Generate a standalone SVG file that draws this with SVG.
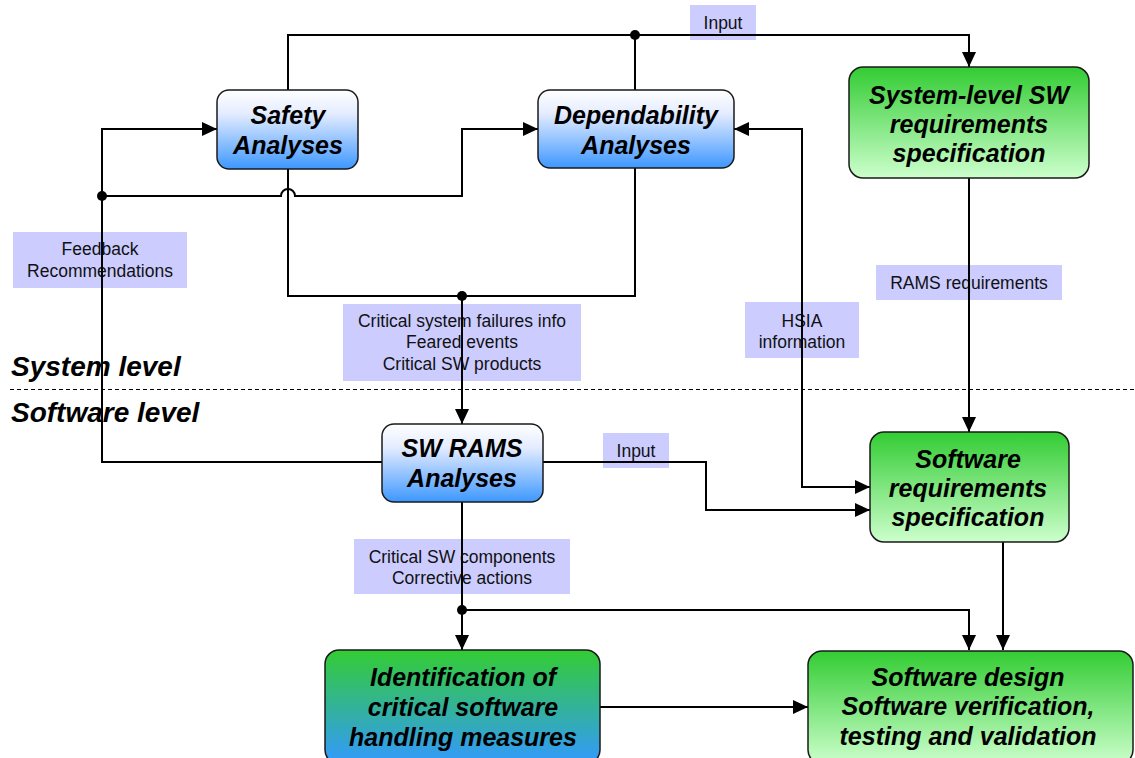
<svg xmlns="http://www.w3.org/2000/svg" width="1135" height="758" viewBox="0 0 1135 758">
<style>
.lbl{fill:#ccccff}
.lt{font-family:"Liberation Sans",Arial,sans-serif;font-size:17.5px;fill:#111;text-anchor:middle}
.nt{font-family:"Liberation Sans",Arial,sans-serif;font-size:25px;font-weight:bold;font-style:italic;fill:#000;text-anchor:middle}
.sec{font-family:"Liberation Sans",Arial,sans-serif;font-size:28px;font-weight:bold;font-style:italic;fill:#000}
.box{stroke:#1a1a1a;stroke-width:1.5}
.c{fill:none;stroke:#000;stroke-width:2}
.dot{fill:#000}
</style>
<defs>
<linearGradient id="gBlue" x1="0" y1="0" x2="0" y2="1">
<stop offset="0" stop-color="#ffffff"/><stop offset="0.3" stop-color="#e4ecff"/><stop offset="1" stop-color="#3d97ff"/>
</linearGradient>
<linearGradient id="gGreen" x1="0" y1="0" x2="0" y2="1">
<stop offset="0" stop-color="#33cc33"/><stop offset="1" stop-color="#ccffcc"/>
</linearGradient>
<linearGradient id="gGB" x1="0" y1="0" x2="0" y2="1">
<stop offset="0" stop-color="#33cc33"/><stop offset="1" stop-color="#3399ff"/>
</linearGradient>
<marker id="ah" markerUnits="userSpaceOnUse" markerWidth="15" markerHeight="14" refX="15" refY="7" orient="auto-start-reverse">
<path d="M0,0 L15,7 L0,14 z" fill="#000"/>
</marker>
</defs>

<g id="labels">
<rect class="lbl" x="690" y="5" width="66" height="35"/>
<text class="lt" x="723" y="29">Input</text>
<rect class="lbl" x="13" y="232" width="174" height="56"/>
<text class="lt" x="100" y="255">Feedback</text>
<text class="lt" x="100" y="277">Recommendations</text>
<rect class="lbl" x="343" y="304" width="238" height="77"/>
<text class="lt" x="462" y="327">Critical system failures info</text>
<text class="lt" x="462" y="348">Feared events</text>
<text class="lt" x="462" y="370">Critical SW products</text>
<rect class="lbl" x="745" y="302" width="114" height="56"/>
<text class="lt" x="802" y="327">HSIA</text>
<text class="lt" x="802" y="348">information</text>
<rect class="lbl" x="876" y="265" width="186" height="35"/>
<text class="lt" x="969" y="289">RAMS requirements</text>
<rect class="lbl" x="603" y="433" width="66" height="35"/>
<text class="lt" x="636" y="457">Input</text>
<rect class="lbl" x="354" y="539" width="216" height="55"/>
<text class="lt" x="462" y="563">Critical SW components</text>
<text class="lt" x="462" y="584">Corrective actions</text>
</g>

<g id="sections">
<line x1="10" y1="389.5" x2="1135" y2="389.5" stroke="#000" stroke-width="1" stroke-dasharray="4 3"/>
<text class="sec" x="11" y="376">System level</text>
<text class="sec" x="11" y="422">Software level</text>
</g>

<g id="connectors">
<path class="c" d="M288,90 V35 H969 V67" marker-end="url(#ah)"/>
<path class="c" d="M635,90 V35"/>
<path class="c" d="M288,169 V296 H635 V168"/>
<path class="c" d="M462,296 V424" marker-end="url(#ah)"/>
<path class="c" d="M382,462 H102 V129 H217" marker-end="url(#ah)"/>
<path class="c" d="M102,196 H281 A7,7 0 0 1 295,196 H462 V129 H538" marker-end="url(#ah)"/>
<path class="c" d="M870,487 H802 V129 H734" marker-start="url(#ah)" marker-end="url(#ah)"/>
<path class="c" d="M543,462 H706 V510 H870" marker-end="url(#ah)"/>
<path class="c" d="M969,178 V432" marker-end="url(#ah)"/>
<path class="c" d="M462,502 V650" marker-end="url(#ah)"/>
<path class="c" d="M462,610 H969 V650" marker-end="url(#ah)"/>
<path class="c" d="M1003,542 V650" marker-end="url(#ah)"/>
<path class="c" d="M600,707 H808" marker-end="url(#ah)"/>
<circle class="dot" cx="635" cy="35" r="5"/>
<circle class="dot" cx="462" cy="296" r="5"/>
<circle class="dot" cx="102" cy="196" r="5"/>
<circle class="dot" cx="462" cy="610" r="5"/>
</g>

<g id="safety">
<rect class="box" x="217" y="90" width="141" height="79" rx="12" fill="url(#gBlue)"/>
<text class="nt" x="288" y="124">Safety</text>
<text class="nt" x="288" y="154">Analyses</text>
</g>
<g id="dependability">
<rect class="box" x="538" y="90" width="196" height="78" rx="12" fill="url(#gBlue)"/>
<text class="nt" x="636" y="124">Dependability</text>
<text class="nt" x="636" y="154">Analyses</text>
</g>
<g id="syslevel">
<rect class="box" x="849" y="67" width="240" height="111" rx="14" fill="url(#gGreen)"/>
<text class="nt" x="969" y="104">System-level SW</text>
<text class="nt" x="969" y="133">requirements</text>
<text class="nt" x="969" y="162">specification</text>
</g>
<g id="swrams">
<rect class="box" x="382" y="424" width="161" height="78" rx="12" fill="url(#gBlue)"/>
<text class="nt" x="462" y="457">SW RAMS</text>
<text class="nt" x="462" y="487">Analyses</text>
</g>
<g id="swreq">
<rect class="box" x="870" y="432" width="199" height="110" rx="14" fill="url(#gGreen)"/>
<text class="nt" x="968" y="468">Software</text>
<text class="nt" x="968" y="497">requirements</text>
<text class="nt" x="968" y="526">specification</text>
</g>
<g id="identification">
<rect class="box" x="325" y="650" width="275" height="114" rx="14" fill="url(#gGB)"/>
<text class="nt" x="463" y="686">Identification of</text>
<text class="nt" x="463" y="716">critical software</text>
<text class="nt" x="463" y="746">handling measures</text>
</g>
<g id="swdesign">
<rect class="box" x="808" y="651" width="325" height="113" rx="14" fill="url(#gGreen)"/>
<text class="nt" x="968" y="686">Software design</text>
<text class="nt" x="968" y="715">Software verification,</text>
<text class="nt" x="968" y="745">testing and validation</text>
</g>
</svg>
